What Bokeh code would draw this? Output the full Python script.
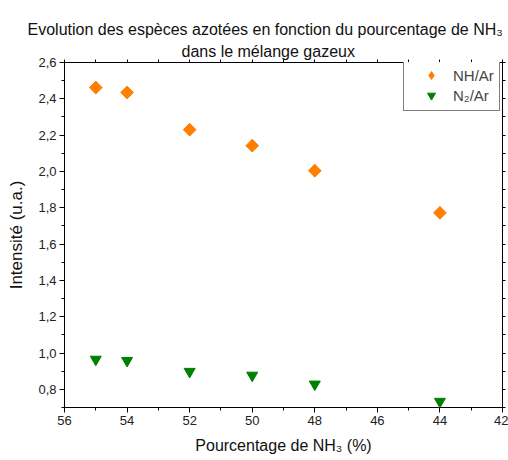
from bokeh.plotting import figure
from bokeh.models import Range1d, FixedTicker, LinearAxis, Title, Legend, LegendItem
from bokeh.embed import file_html
from bokeh.resources import INLINE

# ---- data ----
x_pct = [55, 54, 52, 50, 48, 44]
nh_ar = [2.462, 2.435, 2.230, 2.142, 2.004, 1.772]
n2_ar = [0.965, 0.958, 0.898, 0.877, 0.828, 0.733]

x_ticks = [56, 54, 52, 50, 48, 46, 44, 42]
x_minor = [55, 53, 51, 49, 47, 45, 43]
x_all = [56, 55, 54, 53, 52, 51, 50, 49, 48, 47, 46, 45, 44, 43, 42]
y_ticks = [0.8, 1.0, 1.2, 1.4, 1.6, 1.8, 2.0, 2.2, 2.4, 2.6]
y_tick_labels = ["0,8", "1,0", "1,2", "1,4", "1,6", "1,8", "2,0", "2,2", "2,4", "2,6"]
y_minor = [0.7, 0.9, 1.1, 1.3, 1.5, 1.7, 1.9, 2.1, 2.3, 2.5]
y_all = sorted(y_ticks + y_minor)

title_1 = "Evolution des espèces azotées en fonction du pourcentage de NH\u2083"
title_2 = "dans le mélange gazeux"
x_label = "Pourcentage de NH\u2083 (%)"
y_label = "Intensité (u.a.)"
series_names = ["NH/Ar", "N\u2082/Ar"]

FONT = "Liberation Sans"

p = figure(frame_width=438, frame_height=345, output_backend="svg",
           toolbar_location=None, x_range=Range1d(56, 42), y_range=Range1d(0.7, 2.6),
           min_border_left=64, min_border_right=6, min_border_top=62, min_border_bottom=52)
p.title = None
p.xgrid.visible = False
p.ygrid.visible = False
p.outline_line_color = "black"
p.outline_line_alpha = 1.0
p.background_fill_color = "white"
p.border_fill_color = "white"

xa = p.xaxis[0]
xa.ticker = FixedTicker(ticks=x_ticks, minor_ticks=x_minor)
xa.axis_label = x_label

ya = p.yaxis[0]
ya.ticker = FixedTicker(ticks=y_ticks, minor_ticks=y_minor)
ya.major_label_overrides = {t: l for t, l in zip(y_ticks, y_tick_labels)}
ya.axis_label = y_label

for a in (xa, ya):
    a.axis_line_color = "black"
    a.major_tick_line_color = "black"
    a.minor_tick_line_color = "black"
    a.major_tick_in = 0
    a.major_tick_out = 5
    a.minor_tick_in = 0
    a.minor_tick_out = 3
    a.major_label_text_font = FONT
    a.major_label_text_font_size = "13px"
    a.major_label_text_color = "#222222"
    a.axis_label_text_font = FONT
    a.axis_label_text_font_style = "normal"
    a.axis_label_text_color = "#111111"
xa.axis_label_text_font_size = "16px"
ya.axis_label_text_font_size = "17px"
xa.major_label_standoff = 3
xa.axis_label_standoff = 9
ya.major_label_standoff = 3
ya.axis_label_standoff = 9

# top and right axes (ticks only, no labels)
top = LinearAxis(ticker=FixedTicker(ticks=x_all))
right = LinearAxis(ticker=FixedTicker(ticks=y_all))
top.major_label_overrides = {t: "" for t in x_all}
right.major_label_overrides = {t: "" for t in y_all}
for a in (top, right):
    a.major_label_text_font_size = "1px"
    a.major_label_standoff = 0
    a.major_tick_in = 0
    a.major_tick_out = 3
    a.minor_tick_line_color = None
    a.axis_line_color = "black"
    a.major_tick_line_color = "black"
p.add_layout(top, "above")
p.add_layout(right, "right")

# titles (added from the plot outward)
t2 = Title(text=title_2, align="left", offset=117, text_font=FONT, text_font_size="16px",
           text_font_style="normal", standoff=0, text_color="#111111")
t1 = Title(text=title_1, align="left", offset=-37, text_font=FONT, text_font_size="16px",
           text_font_style="normal", standoff=6, text_color="#111111")
p.add_layout(t2, "above")
p.add_layout(t1, "above")

# diamond key (hidden under the rotated squares, used for the legend swatch)
r1_key = p.scatter(x_pct, nh_ar, marker="diamond", size=12, color="#FF8000")
r1 = p.scatter(x_pct, nh_ar, marker="square", angle=0.785398, size=9, color="#FF8000")
r2 = p.scatter(x_pct, n2_ar, marker="inverted_triangle", size=11, color="#008000")

legend = Legend(items=[LegendItem(label=series_names[0], renderers=[r1_key]),
                       LegendItem(label=series_names[1], renderers=[r2])],
                location=(339, 296), margin=0, padding=5, spacing=0,
                border_line_color="black", border_line_width=1,
                label_text_font=FONT, label_text_font_size="15px",
                glyph_width=44, label_standoff=0, label_height=20, glyph_height=20,
                background_fill_alpha=1.0)
p.add_layout(legend, "center")

open("out.html", "w").write(file_html(p, INLINE))
